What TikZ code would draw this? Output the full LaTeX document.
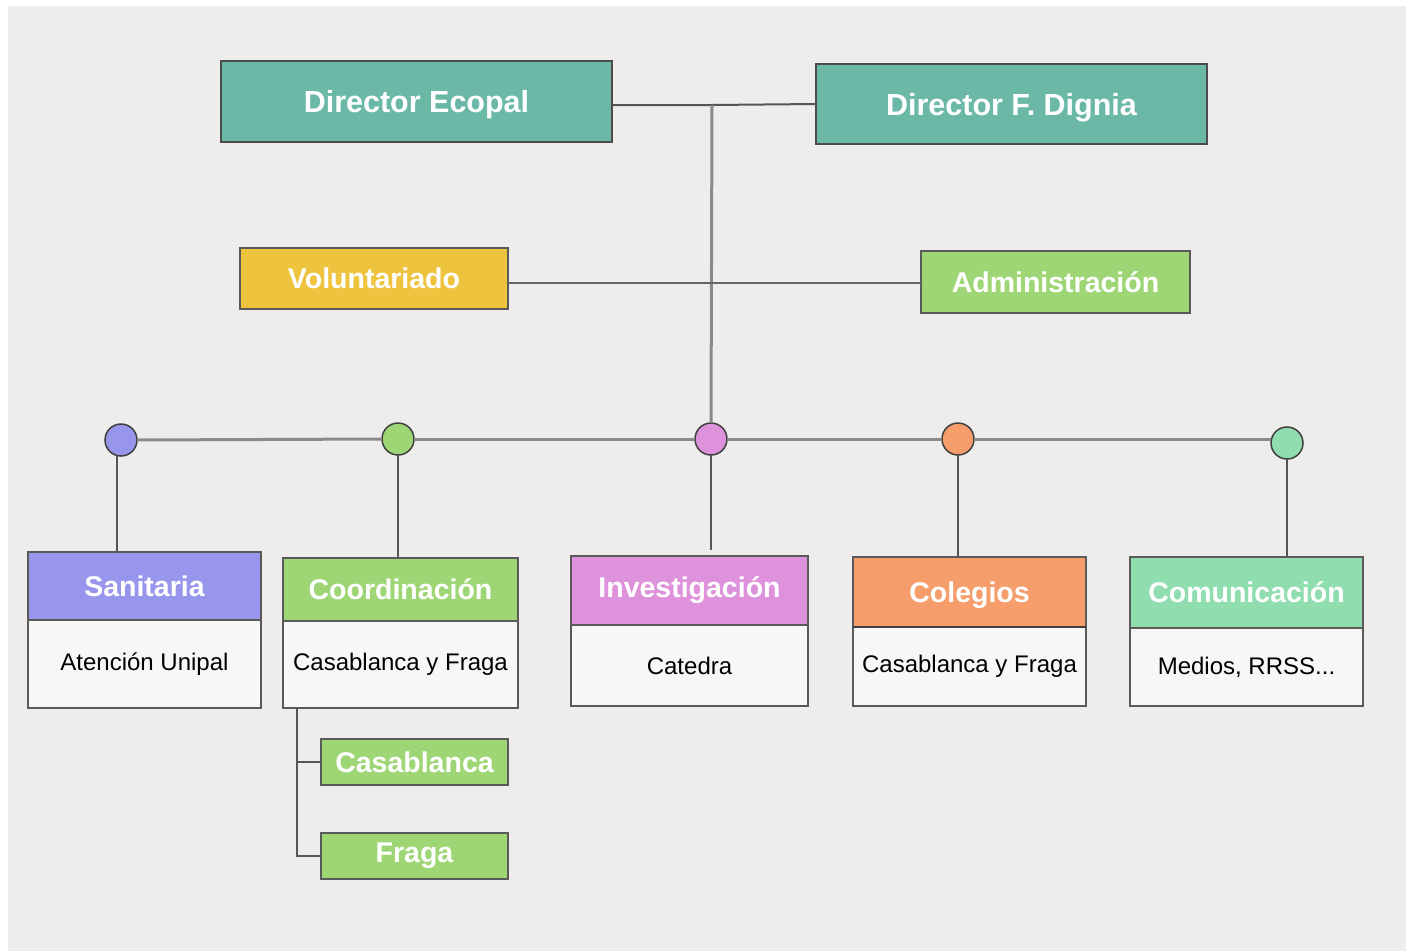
\documentclass[tikz,border=0pt]{standalone}
\usepackage{fontspec}
\setmainfont{Liberation Sans}
\definecolor{bgc}{HTML}{EEEDEB}
\definecolor{teal}{HTML}{6BB8A6}
\definecolor{yel}{HTML}{EEC43F}
\definecolor{grn}{HTML}{9ED676}
\definecolor{pur}{HTML}{9896EC}
\definecolor{pnk}{HTML}{DE92DB}
\definecolor{org}{HTML}{F59E6B}
\definecolor{mnt}{HTML}{90DEB0}
\definecolor{bodyc}{HTML}{F7F7F7}
\definecolor{edge}{HTML}{5A5A5A}
\definecolor{linec}{HTML}{555555}
\definecolor{trunkc}{HTML}{8A8A8A}
\begin{document}
\begin{tikzpicture}[x=1pt,y=-1pt,
  box/.style={draw=edge,line width=1.5pt,inner sep=0pt,outer sep=0pt,align=center},
  head/.style={box,text=white,font=\fontsize{28.5}{30}\selectfont\bfseries},
  dirbox/.style={box,draw=black!70,text=white,text depth=0pt,font=\fontsize{30.5}{32}\selectfont\bfseries},
  bodybox/.style={box,fill=bodyc,text=black,font=\fontsize{24}{26}\selectfont},
  dot/.style={circle,draw=black!75,line width=1.5pt,minimum size=32pt,inner sep=0pt,outer sep=0pt},
  conn/.style={draw=linec,line width=2pt},
  trunk/.style={draw=trunkc,line width=3pt}]
\useasboundingbox (0,0) rectangle (1406,951);
\fill[white] (0,0) rectangle (1406,951);
\fill[bgc] (8,6) rectangle (1406,951);

% directors
\node[dirbox,fill=teal,minimum width=391pt,minimum height=81pt] (ecopal) at (416.5,101.5) {Director Ecopal};
\node[dirbox,fill=teal,minimum width=391pt,minimum height=80pt] (dignia) at (1011.5,104) {Director F. Dignia};
\coordinate (top) at (712,105);

% second level
\node[head,fill=yel,minimum width=268pt,minimum height=61pt] (vol) at (374,278.5) {Voluntariado};
\node[head,fill=grn,minimum width=269pt,minimum height=62pt] (adm) at (1055.5,282) {Administración};
\coordinate (mid) at (712,283);

% circles
\node[dot,fill=pur] (c1) at (121,440) {};
\node[dot,fill=grn] (c2) at (398,439) {};
\node[dot,fill=pnk] (c3) at (711,439) {};
\node[dot,fill=org] (c4) at (958,439) {};
\node[dot,fill=mnt] (c5) at (1287,443) {};

% departments
\node[head,fill=pur,minimum width=233pt,minimum height=68pt] (sanh) at (144.5,586) {Sanitaria};
\node[bodybox,minimum width=233pt,minimum height=88pt] (sanb) at (144.5,664) {Atención Unipal};

\node[head,fill=grn,minimum width=235pt,minimum height=63pt] (coorh) at (400.5,589.5) {Coordinación};
\node[bodybox,minimum width=235pt,minimum height=87pt] (coorb) at (400.5,664.5) {Casablanca y Fraga};

\node[head,fill=pnk,minimum width=237pt,minimum height=69pt] (invh) at (689.5,590.5) {Investigación};
\node[bodybox,minimum width=237pt,minimum height=81pt] (invb) at (689.5,665.5) {Catedra};

\node[head,fill=org,minimum width=233pt,minimum height=70pt,text depth=0pt] (colh) at (969.5,592) {Colegios};
\node[bodybox,minimum width=233pt,minimum height=79pt] (colb) at (969.5,666.5) {Casablanca y Fraga};
\draw[draw=black!75,line width=2.5pt] (colh.south west) -- (colh.south east);

\node[head,fill=mnt,minimum width=233pt,minimum height=71pt] (comh) at (1246.5,592.5) {Comunicación};
\node[bodybox,minimum width=233pt,minimum height=78pt] (comb) at (1246.5,667) {Medios, RRSS...};

% sub boxes
\node[head,fill=grn,minimum width=187pt,minimum height=46pt] (casa) at (414.5,762) {Casablanca};
\node[head,fill=grn,minimum width=187pt,minimum height=46pt] (fraga) at (414.5,856) {Fraga};
\coordinate (k0) at (297,708);

% connectors
\draw[conn] (ecopal.east |- top) -- (top) -- (dignia.west);
\draw[trunk] (top) -- (c3.north);
\draw[conn,draw=black!60] (vol.east |- mid) -- (adm.west |- mid);
\draw[trunk] (c1.east) -- (c2.west);
\draw[trunk] (c2.east) -- (c3.west);
\draw[trunk] (c3.east) -- (c4.west);
\draw[trunk] (c4.east) -- (c4.east -| c5.west);
\draw[conn] (117,456) -- (117,552);
\draw[conn] (c2.south) -- (c2.south |- coorh.north);
\draw[conn] (c3.south) -- (711,550);
\draw[conn] (c4.south) -- (c4.south |- colh.north);
\draw[conn] (c5.south) -- (c5.south |- comh.north);
\draw[conn] (k0) |- (fraga.west);
\draw[conn] (k0 |- casa.west) -- (casa.west);
\end{tikzpicture}
\end{document}
